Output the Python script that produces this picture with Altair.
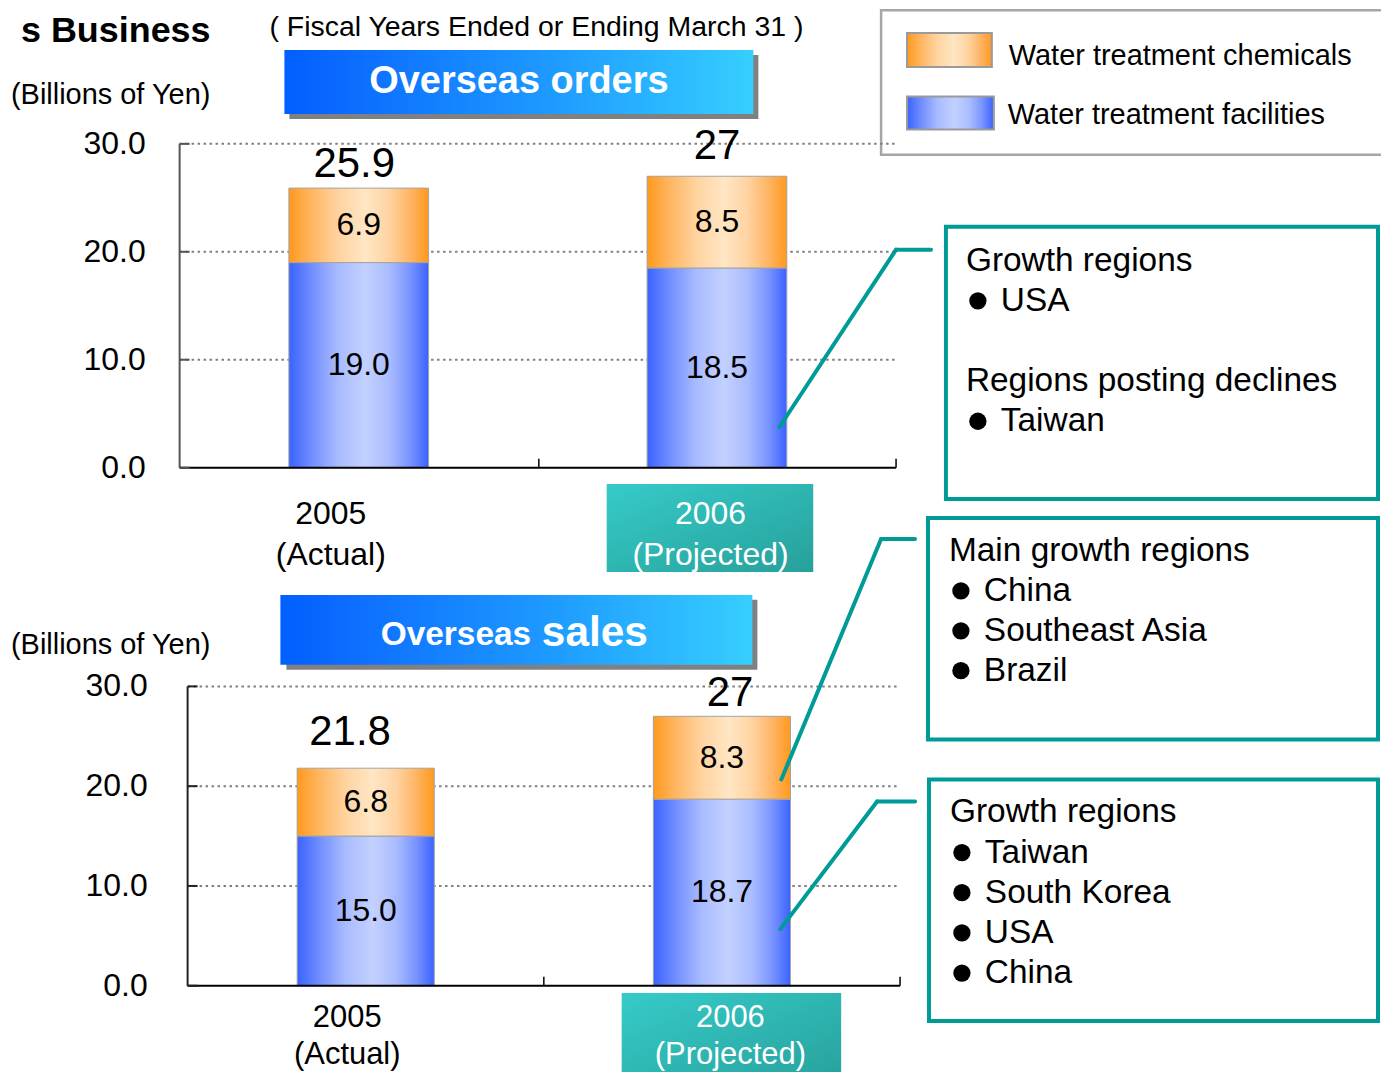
import altair as alt
import pandas as pd

# ---------------- data ----------------
years = ["2005", "2006"]
year_notes = ["(Actual)", "(Projected)"]
series_names = ["Water treatment facilities", "Water treatment chemicals"]

orders_facilities = [19.0, 18.5]
orders_chemicals = [6.9, 8.5]
orders_total_labels = ["25.9", "27"]

sales_facilities = [15.0, 18.7]
sales_chemicals = [6.8, 8.3]
sales_total_labels = ["21.8", "27"]

y_tick_values = [0, 10, 20, 30]

header_title = "s Business"
header_note = "( Fiscal Years Ended or Ending March 31 )"
unit_label = "(Billions of Yen)"
orders_title = "Overseas orders"
sales_title_a = "Overseas"
sales_title_b = "sales"

box1_lines = ["Growth regions", "● USA", "", "Regions posting declines", "● Taiwan"]
box2_lines = ["Main growth regions", "● China", "● Southeast Asia", "● Brazil"]
box3_lines = ["Growth regions", "● Taiwan", "● South Korea", "● USA", "● China"]

# ---------------- style ----------------
FONT = "Liberation Sans"
TEAL = "#009b97"
W, H = 1376, 1064


def P(v):
    """page pixel -> chart pixel (the page has an 8px margin)"""
    return v - 8


def hgrad(stops, x2=1, y2=0):
    return {"gradient": "linear", "x1": 0, "y1": 0, "x2": x2, "y2": y2,
            "stops": [{"offset": o, "color": c} for o, c in stops]}


BLUE = hgrad([(0, "#3a62ff"), (0.15, "#6d8bff"), (0.35, "#a8bbff"), (0.55, "#c3d1ff"),
              (0.72, "#aabcff"), (0.87, "#7893ff"), (1, "#3a62ff")])
ORANGE = hgrad([(0, "#ff991c"), (0.15, "#ffb45c"), (0.35, "#ffd39f"), (0.55, "#ffe6c4"),
                (0.72, "#ffd3a1"), (0.87, "#ffb463"), (1, "#ff991c")])
BANNER = hgrad([(0, "#0060ff"), (0.1, "#0a68ff"), (0.55, "#1d98ff"), (1, "#36ceff")])
TEALGRAD = hgrad([(0, "#36cbc8"), (1, "#27a09b")], x2=1, y2=1)

one = pd.DataFrame({"k": [0]})


def rect(x, y, x2, y2, **mk):
    return alt.Chart(one).mark_rect(**mk).encode(
        x=alt.value(P(x)), y=alt.value(P(y)), x2=alt.value(P(x2)), y2=alt.value(P(y2)))


def text(x, y, t, **mk):
    mk.setdefault("font", FONT)
    mk.setdefault("color", "black")
    return alt.Chart(one).mark_text(text=t, **mk).encode(x=alt.value(P(x)), y=alt.value(P(y)))


def seg(x, y, x2, y2, **mk):
    return alt.Chart(one).mark_rule(**mk).encode(
        x=alt.value(P(x)), y=alt.value(P(y)), x2=alt.value(P(x2)), y2=alt.value(P(y2)))


def bullet(x, y):
    return alt.Chart(one).mark_point(shape="circle", filled=True, size=300, color="black",
                                     opacity=1).encode(x=alt.value(P(x)), y=alt.value(P(y)))


def note_box(lines, x_head, x_bullet, x_item, y_first, lh):
    out = []
    for i, line in enumerate(lines):
        if not line:
            continue
        y = y_first + i * lh
        if line.startswith("●"):
            out.append(bullet(x_bullet, y))
            out.append(text(x_item, y, line[1:].strip(), fontSize=33.5, align="left",
                            baseline="middle"))
        else:
            out.append(text(x_head, y, line, fontSize=33.5, align="left", baseline="middle"))
    return out


def panel(fac, chem, total_labels, x_rng, y_rng, pad, axis_color, label_right,
          boundaries, total_offsets, label_dxs, label_y, line_h, label_size, teal_box):
    rows = []
    for i, yr in enumerate(years):
        base = 0.0
        for s, v in zip(series_names, (fac[i], chem[i])):
            rows.append({"year": yr, "series": s, "value": v, "y0": base,
                         "y1": base + v, "mid": base + v / 2, "label": f"{v:.1f}"})
            base += v
    bars = pd.DataFrame(rows)
    tot = pd.DataFrame({
        "year": years,
        "total": [fac[i] + chem[i] for i in range(len(years))],
        "tlabel": total_labels,
        "xlabel": [f"{y}\n{n}" for y, n in zip(years, year_notes)],
    })
    ticks = pd.DataFrame({"v": y_tick_values, "lab": [f"{t:.1f}" for t in y_tick_values]})
    grid_df = ticks[ticks["v"] > 0]
    span = pd.DataFrame({"lo": [y_tick_values[0]], "hi": [y_tick_values[-1]]})

    xsc = alt.Scale(domain=years, range=[P(x_rng[0]), P(x_rng[1])],
                    paddingInner=pad, paddingOuter=pad / 2)
    ysc = alt.Scale(domain=[0, 30], range=[P(y_rng[0]), P(y_rng[1])], nice=False, zero=False)
    Xn = alt.X("year:N", scale=xsc, axis=None)

    def Y(f):
        return alt.Y(f, scale=ysc, axis=None)

    x0, x1 = P(x_rng[0]), P(x_rng[1])

    grid = alt.Chart(grid_df).mark_rule(color="#7f7f7f", strokeWidth=2,
                                        strokeDash=[2.5, 3.5]).encode(
        y=Y("v:Q"), x=alt.value(x0), x2=alt.value(x1))
    fac_bar = alt.Chart(bars).transform_filter(
        alt.datum.series == series_names[0]
    ).mark_bar(fill=BLUE, stroke="#a3a3a3", strokeWidth=1).encode(
        x=Xn, y=Y("y0:Q"), y2="y1:Q")
    chem_bar = alt.Chart(bars).transform_filter(
        alt.datum.series == series_names[1]
    ).mark_bar(fill=ORANGE, stroke="#a3a3a3", strokeWidth=1).encode(
        x=Xn, y=Y("y0:Q"), y2="y1:Q")
    in_text = alt.Chart(bars).mark_text(font=FONT, fontSize=32, color="black").encode(
        x=Xn, y=Y("mid:Q"), text="label:N")
    y_line = alt.Chart(span).mark_rule(color=axis_color, strokeWidth=2).encode(
        y=Y("lo:Q"), y2="hi:Q", x=alt.value(x0))
    x_line = alt.Chart(span).mark_rule(color="black", strokeWidth=2).encode(
        y=Y("lo:Q"), x=alt.value(x0), x2=alt.value(x1))
    y_ticks = alt.Chart(ticks).mark_rule(color=axis_color, strokeWidth=2).encode(
        y=Y("v:Q"), x=alt.value(x0), x2=alt.value(x0 + 10))
    y_labels = alt.Chart(ticks).mark_text(font=FONT, fontSize=32, color="black",
                                          align="right", baseline="middle").encode(
        y=Y("v:Q"), x=alt.value(P(label_right)), text="lab:N")

    layers = [grid, fac_bar, chem_bar, in_text, y_line, x_line, y_ticks, y_labels]
    for bx in boundaries:
        layers.append(alt.Chart(span).mark_rule(color="black", strokeWidth=1.5).encode(
            y=Y("lo:Q"), y2=alt.value(P(y_rng[0]) - 9), x=alt.value(P(bx))))
    for i, yr in enumerate(years):
        dx, dy = total_offsets[i]
        layers.append(alt.Chart(tot).transform_filter(alt.datum.year == yr).mark_text(
            font=FONT, fontSize=42, color="black", dx=dx, dy=dy).encode(
            x=Xn, y=Y("total:Q"), text="tlabel:N"))
    layers.append(rect(*teal_box, fill=TEALGRAD))
    for i, yr in enumerate(years):
        layers.append(alt.Chart(tot).transform_filter(alt.datum.year == yr).mark_text(
            font=FONT, fontSize=label_size, color="black" if i == 0 else "white",
            lineBreak="\n", lineHeight=line_h, baseline="middle", dx=label_dxs[i]).encode(
            x=Xn, y=alt.value(P(label_y)), text="xlabel:N"))
    return alt.layer(*layers)


orders_panel = panel(orders_facilities, orders_chemicals, orders_total_labels,
                     x_rng=(180, 898), y_rng=(467.5, 143), pad=0.61, axis_color="#555555",
                     label_right=146, boundaries=[540, 898],
                     total_offsets=[(-4.5, -24.5), (0, -30)],
                     label_dxs=[-28, -6.5], label_y=514, line_h=41, label_size=32,
                     teal_box=(608, 484, 815, 572))
sales_panel = panel(sales_facilities, sales_chemicals, sales_total_labels,
                    x_rng=(188, 902), y_rng=(986.7, 686.7), pad=0.615, axis_color="#222222",
                    label_right=148, boundaries=[545, 902],
                    total_offsets=[(-15.7, -36.5), (8, -23)],
                    label_dxs=[-18.5, 8.5], label_y=1019, line_h=37, label_size=31,
                    teal_box=(623, 994, 843, 1090))

before = [
    # header (kept just inside the drawable area)
    text(211, 41, header_title, fontSize=36, fontWeight="bold", align="right",
         baseline="alphabetic"),
    text(270, 35, header_note, fontSize=28.5, align="left", baseline="alphabetic"),
    text(11, 94, unit_label, fontSize=29, align="left", baseline="middle"),
    text(11, 645, unit_label, fontSize=29, align="left", baseline="middle"),
    # banners
    rect(290, 54, 760, 118, fill="#808080"),
    rect(285, 49, 755, 113, fill=BANNER),
    text(520, 81, orders_title, fontSize=38, fontWeight="bold", color="white",
         align="center", baseline="middle"),
    rect(287, 600, 759, 670, fill="#808080"),
    rect(281, 595, 754, 665, fill=BANNER),
    text(381.5, 645, sales_title_a, fontSize=33.5, fontWeight="bold", color="white",
         align="left", baseline="alphabetic"),
    text(543, 646, sales_title_b, fontSize=42.5, fontWeight="bold", color="white",
         align="left", baseline="alphabetic"),
    # legend
    rect(883, 9, 1420, 154, fill="white", fillOpacity=0, stroke="#a6a6a6", strokeWidth=2.5),
    rect(909, 32, 994, 66, fill=ORANGE, stroke="#9a9a9a", strokeWidth=2),
    rect(909, 95.5, 996, 128.5, fill=BLUE, stroke="#9a9a9a", strokeWidth=2),
    text(1011, 55, series_names[1], fontSize=29, align="left", baseline="middle"),
    text(1010, 114, series_names[0], fontSize=29, align="left", baseline="middle"),
]

after = [
    # annotation boxes
    rect(948, 226, 1381, 499, fill="white", stroke=TEAL, strokeWidth=4),
    rect(930, 518, 1381, 740, fill="white", stroke=TEAL, strokeWidth=4),
    rect(931, 780, 1381, 1022, fill="white", stroke=TEAL, strokeWidth=4),
]
after += note_box(box1_lines, 968, 980, 1003, 260, 40.25)
after += note_box(box2_lines, 951, 963, 986, 551, 40)
after += note_box(box3_lines, 952, 964, 987, 813, 40.25)
after += [
    # leader lines
    seg(781, 427, 898, 249, color=TEAL, strokeWidth=4, strokeCap="round"),
    seg(898, 249, 933, 249, color=TEAL, strokeWidth=4, strokeCap="round"),
    seg(783, 780, 883, 539, color=TEAL, strokeWidth=4, strokeCap="round"),
    seg(883, 539, 917, 539, color=TEAL, strokeWidth=4, strokeCap="round"),
    seg(782, 930, 879, 802, color=TEAL, strokeWidth=4, strokeCap="round"),
    seg(879, 802, 917, 802, color=TEAL, strokeWidth=4, strokeCap="round"),
]

chart = alt.layer(*before, orders_panel, sales_panel, *after).resolve_scale(
    x="independent", y="independent"
).properties(
    width=W, height=H, padding=0, background="white",
    autosize=alt.AutoSizeParams(type="none"),
).configure_view(stroke=None)

chart.save("out.html", embed_options={"renderer": "svg", "actions": False})
